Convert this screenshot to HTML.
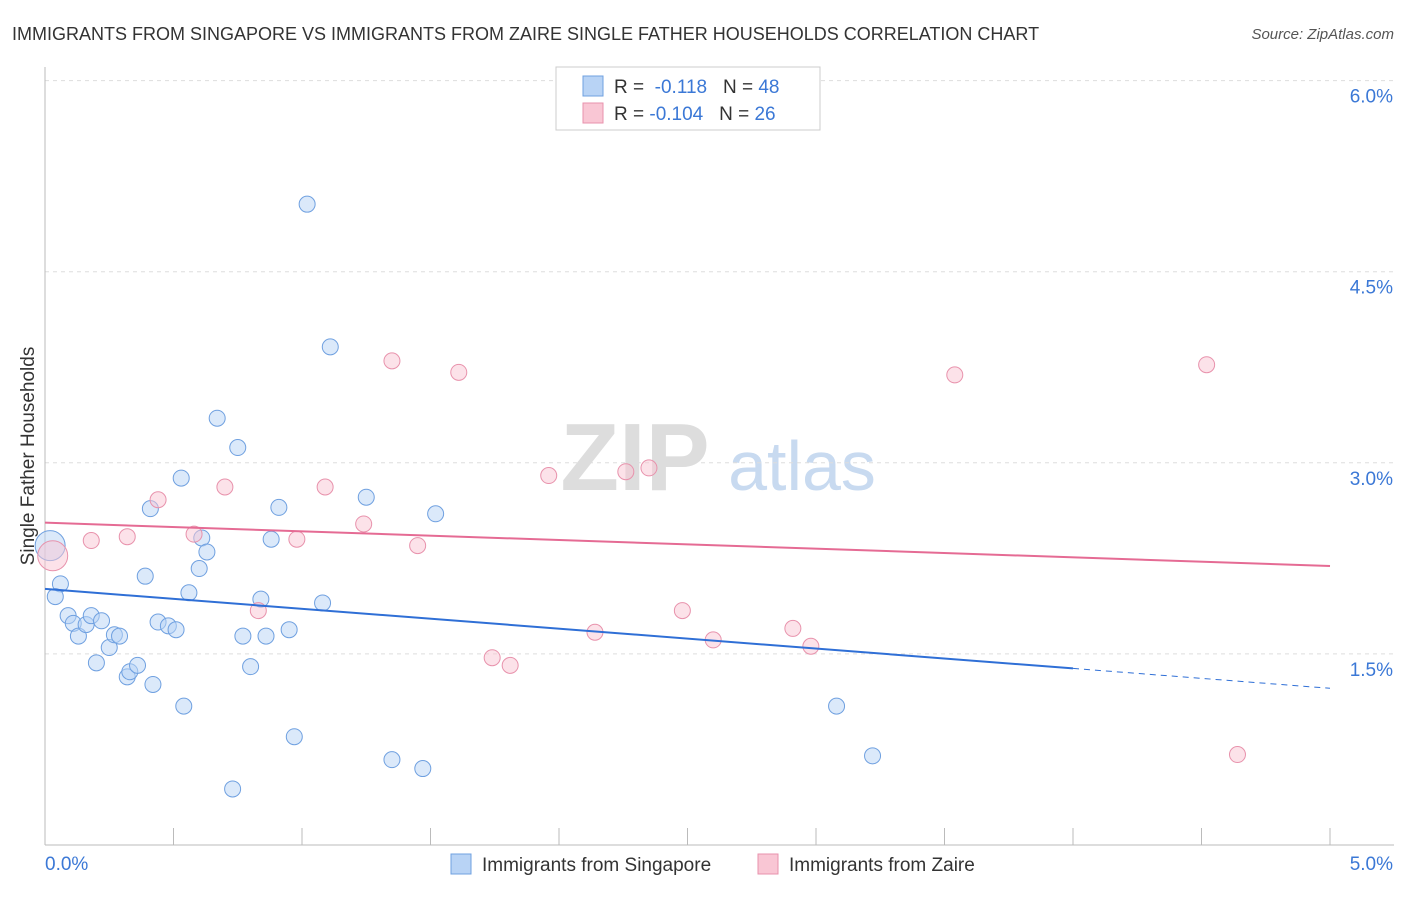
<!DOCTYPE html>
<html><head><meta charset="utf-8"><style>
body{margin:0;background:#fff;font-family:"Liberation Sans",sans-serif}
svg text{font-family:"Liberation Sans",sans-serif}
</style></head><body>
<svg id="c" width="1406" height="892" xmlns="http://www.w3.org/2000/svg">
<text x="12" y="40" font-size="18" fill="#333">IMMIGRANTS FROM SINGAPORE VS IMMIGRANTS FROM ZAIRE SINGLE FATHER HOUSEHOLDS CORRELATION CHART</text>
<text x="1394" y="39" font-size="15" fill="#555" font-style="italic" text-anchor="end">Source: ZipAtlas.com</text>
<g>
<text x="635" y="490" font-size="96" fill="#ddd" text-anchor="middle" font-family="Liberation Serif" font-weight="bold">ZIP</text>
<text x="802" y="490" font-size="70" fill="#c8daf0" text-anchor="middle">atlas</text>
</g>
<g id="grid"></g><g id="axes"></g><g id="marks"></g>
<g>
<rect x="556" y="67" width="264" height="63" fill="#fff" stroke="#ccc"/>
<rect x="583" y="76" width="20" height="20" fill="#b8d3f5" stroke="#6fa0e0"/>
<rect x="583" y="103" width="20" height="20" fill="#f9c6d4" stroke="#e892ac"/>
<text x="614" y="93" font-size="19" fill="#333">R = <tspan fill="#3b78d6">&#160;-0.118</tspan><tspan fill="#333">&#160;&#160;&#160;N = </tspan><tspan fill="#3b78d6">48</tspan></text>
<text x="614" y="120" font-size="19" fill="#333">R = <tspan fill="#3b78d6">-0.104</tspan><tspan fill="#333">&#160;&#160;&#160;N = </tspan><tspan fill="#3b78d6">26</tspan></text>
</g>
<g>
<rect x="451" y="854" width="20" height="20" fill="#b8d3f5" stroke="#6fa0e0"/>
<text x="482" y="871" font-size="19" fill="#333">Immigrants from Singapore</text>
<rect x="758" y="854" width="20" height="20" fill="#f9c6d4" stroke="#e892ac"/>
<text x="789" y="871" font-size="19" fill="#333">Immigrants from Zaire</text>
</g>
</svg>
<script>
const blueX=[0.02,0.06,0.04,0.09,0.11,0.13,0.16,0.18,0.20,0.22,0.25,0.27,0.29,0.32,0.33,0.36,0.39,0.41,0.42,0.44,0.48,0.51,0.53,0.54,0.56,0.60,0.61,0.63,0.67,0.73,0.75,0.77,0.80,0.84,0.86,0.88,0.91,0.95,0.97,1.02,1.08,1.11,1.25,1.35,1.47,1.52,3.08,3.22];
const blueY=[2.35,2.05,1.95,1.80,1.74,1.64,1.73,1.80,1.43,1.76,1.55,1.65,1.64,1.32,1.36,1.41,2.11,2.64,1.26,1.75,1.72,1.69,2.88,1.09,1.98,2.17,2.41,2.30,3.35,0.44,3.12,1.64,1.40,1.93,1.64,2.40,2.65,1.69,0.85,5.03,1.90,3.91,2.73,0.67,0.60,2.60,1.09,0.70];
const pinkX=[0.03,0.18,0.32,0.44,0.58,0.70,0.83,0.98,1.09,1.24,1.35,1.45,1.61,1.74,1.81,1.96,2.14,2.26,2.35,2.48,2.60,2.91,2.98,3.54,4.52,4.64];
const pinkY=[2.27,2.39,2.42,2.71,2.44,2.81,1.84,2.40,2.81,2.52,3.80,2.35,3.71,1.47,1.41,2.90,1.67,2.93,2.96,1.84,1.61,1.70,1.56,3.69,3.77,0.71];
const blueTrend=[2.01,1.23];
const pinkTrend=[2.53,2.19];
const yTicks=[1.5,3.0,4.5,6.0];
const yTickLabels=["1.5%","3.0%","4.5%","6.0%"];
const xLabels=["0.0%","5.0%"];
const NS="http://www.w3.org/2000/svg";
const X=v=>45+v*257, Y=v=>845-v*127.4;
function mk(p,t,a){const e=document.createElementNS(NS,t);for(const k in a)e.setAttribute(k,a[k]);document.getElementById(p).appendChild(e);return e;}
yTicks.forEach((t,i)=>{
 const g=mk('grid','line',{x1:45,x2:1394,y1:Y(t),y2:Y(t),stroke:'#ddd','stroke-dasharray':'4,4'});
 
 
 const tx=mk('axes','text',{x:1393,y:Y(t)+22,'font-size':19,fill:'#3b78d6','text-anchor':'end'});
 tx.textContent=yTickLabels[i];
 
 
});
let a=mk('axes','line',{x1:45,x2:45,y1:67,y2:845,stroke:'#bbb'});

a=mk('axes','line',{x1:45,x2:1394,y1:845,y2:845,stroke:'#bbb'});

for(let i=0;i<=10;i++){const t=mk('axes','line',{x1:X(i*0.5),x2:X(i*0.5),y1:828,y2:845,stroke:'#bbb'});
 }
let t=mk('axes','text',{x:45,y:870,'font-size':19,fill:'#3b78d6'});t.textContent=xLabels[0];

t=mk('axes','text',{x:1393,y:870,'font-size':19,fill:'#3b78d6','text-anchor':'end'});t.textContent=xLabels[1];

t=mk('axes','text',{x:34,y:456,'font-size':19,fill:'#333','text-anchor':'middle',transform:'rotate(-90 34 456)'});t.textContent='Single Father Households';

function pts(xs,ys,fill,stroke,name){xs.forEach((x,i)=>{const big=i===0;
 const c=mk('marks','circle',{cx:X(x),cy:Y(ys[i]),r:big?15:8,fill:fill,'fill-opacity':0.5,stroke:stroke,'stroke-width':1});
 });}
pts(blueX,blueY,'#b8d3f5','#6fa0e0','point-singapore');
pts(pinkX,pinkY,'#f9c6d4','#e892ac','point-zaire');
const bAt=v=>blueTrend[0]+(blueTrend[1]-blueTrend[0])*v/5;
let l=mk('marks','line',{x1:X(0),y1:Y(bAt(0)),x2:X(4),y2:Y(bAt(4)),stroke:'#2f6fd6','stroke-width':2});

l=mk('marks','line',{x1:X(4),y1:Y(bAt(4)),x2:X(5),y2:Y(bAt(5)),stroke:'#2f6fd6','stroke-width':1,'stroke-dasharray':'6,5'});

l=mk('marks','line',{x1:X(0),y1:Y(pinkTrend[0]),x2:X(5),y2:Y(pinkTrend[1]),stroke:'#e56b94','stroke-width':2});

</script>
</body></html>
